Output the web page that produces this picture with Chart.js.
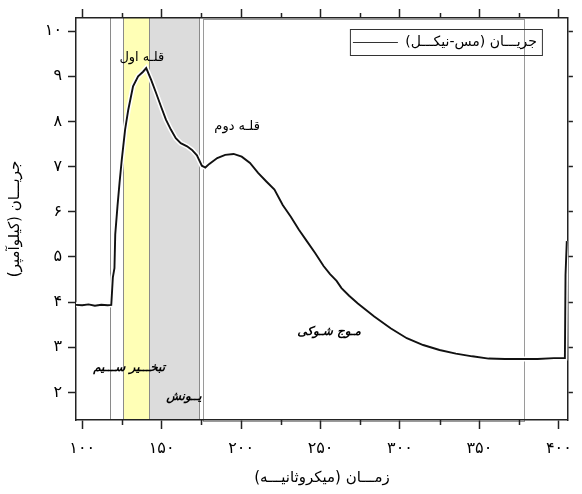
<!DOCTYPE html>
<html>
<head>
<meta charset="utf-8">
<script src="https://cdn.jsdelivr.net/npm/chart.js@4/dist/chart.umd.min.js"></script>
<style>
  html, body { margin: 0; padding: 0; background: #fff; }
  canvas { display: block; }
</style>
</head>
<body>
<canvas id="chart" width="582" height="494"></canvas>
<script>
// داده‌ها (خوانده شده از تصویر)
const timeUs = [96, 100, 104, 108, 112, 116, 118.3, 119.3, 120.3, 120.8, 122.2, 123.5, 124.9, 127, 129, 132,
  135.2, 138.3, 140.3, 143.4, 146.5, 149.6, 152.7, 155.8, 158.9, 162, 166, 169.1, 172.2, 175.3, 177.5, 180,
  185, 190, 195.3, 200.4, 205.6, 210.7, 215.9, 221, 226.2, 231.3, 236.4, 241.6, 246.7, 251.9, 256, 260.1,
  263.2, 268, 273.5, 283.8, 294.1, 304.3, 314.6, 324.9, 335.2, 345.5, 355.8, 366, 376.3, 386.6, 396.9,
  403.8, 404.2, 405];
const currentKA = [3.94, 3.93, 3.95, 3.92, 3.94, 3.93, 3.94, 4.55, 4.75, 5.5, 6.12, 6.64, 7.15, 7.82, 8.26, 8.78,
  9.0, 9.1, 9.18, 8.92, 8.63, 8.33, 8.04, 7.82, 7.63, 7.52, 7.45, 7.37, 7.25, 7.02, 6.98, 7.06,
  7.19, 7.26, 7.28, 7.22, 7.08, 6.86, 6.67, 6.49, 6.15, 5.89, 5.6, 5.34, 5.08, 4.8, 4.62, 4.47,
  4.31, 4.14, 3.97, 3.68, 3.42, 3.2, 3.05, 2.94, 2.86, 2.8, 2.75, 2.74, 2.74, 2.74, 2.76,
  2.76, 4.6, 5.35];
const xTickValues = [100, 150, 200, 250, 300, 350, 400];
const xMinorValues = [125, 175, 225, 275, 325, 375];
const yTickValues = [2, 3, 4, 5, 6, 7, 8, 9, 10];

// بازه‌های فازها (میکروثانیه)
const onsetTime = 117.7;
const evaporationBand = [125.7, 141.8];
const ionizationBand = [141.8, 173.6];
const shockBand = [176.2, 377.8];

const seriesLabel = 'جریـــان (مس-نیکـــل)';

const notes = [
  { text: 'قلـه اول', x: 137.5, y: 9.42, font: '13px "DejaVu Sans"' },
  { text: 'قلـه دوم', x: 197.5, y: 7.88, font: '13px "DejaVu Sans"' },
  { text: 'مـوج شـوکی', x: 255.4, y: 3.34, font: 'italic bold 12px "DejaVu Sans"' },
  { text: 'تبخـــیر ســـیم', x: 129.5, y: 2.54, font: 'italic bold 12px "DejaVu Sans"' },
  { text: 'یــونش', x: 164, y: 1.9, font: 'italic bold 12px "DejaVu Sans"' }
];

const toFa = v => String(v).replace(/\d/g, d => '۰۱۲۳۴۵۶۷۸۹'[d]);
const points = timeUs.map((t, i) => ({ x: t, y: currentKA[i] }));

const overlay = {
  id: 'overlay',
  beforeDraw(chart) {
    const { ctx, chartArea: a, scales: { x } } = chart;
    const px = v => Math.round(x.getPixelForValue(v)) + 0.5;
    ctx.save();
    ctx.fillStyle = '#ffffb6';
    ctx.fillRect(px(evaporationBand[0]), a.top, px(evaporationBand[1]) - px(evaporationBand[0]), a.bottom - a.top);
    ctx.fillStyle = '#dcdcdc';
    ctx.fillRect(px(ionizationBand[0]), a.top, px(ionizationBand[1]) - px(ionizationBand[0]), a.bottom - a.top);
    ctx.strokeStyle = '#8a8a8a';
    ctx.lineWidth = 1;
    [onsetTime, evaporationBand[0], evaporationBand[1], ionizationBand[1]].forEach(v => {
      ctx.beginPath();
      ctx.moveTo(px(v), a.top);
      ctx.lineTo(px(v), a.bottom);
      ctx.stroke();
    });
    ctx.strokeStyle = '#9a9a9a';
    ctx.strokeRect(px(shockBand[0]), a.top + 1.5, px(shockBand[1]) - px(shockBand[0]), a.bottom - a.top);
    ctx.restore();
  },
  afterDraw(chart) {
    const { ctx, chartArea: a, scales: { x, y } } = chart;
    ctx.save();
    // تیک‌های فرعی
    ctx.strokeStyle = '#222';
    ctx.lineWidth = 1.5;
    xMinorValues.forEach(v => {
      const p = Math.round(x.getPixelForValue(v)) + 0.5;
      ctx.beginPath();
      ctx.moveTo(p, a.bottom); ctx.lineTo(p, a.bottom + 5);
      ctx.moveTo(p, a.top); ctx.lineTo(p, a.top - 5);
      ctx.stroke();
    });
    // راهنما
    const bx = a.right - 218, by = a.top + 11, bw = 192, bh = 26;
    ctx.strokeStyle = '#333';
    ctx.lineWidth = 1;
    ctx.strokeRect(bx + 0.5, by + 0.5, bw, bh);
    ctx.beginPath();
    ctx.moveTo(bx + 3, by + 13.5);
    ctx.lineTo(bx + 48, by + 13.5);
    ctx.stroke();
    ctx.fillStyle = '#000';
    ctx.font = '14px "DejaVu Sans"';
    ctx.textAlign = 'right';
    ctx.textBaseline = 'middle';
    ctx.direction = 'rtl';
    ctx.fillText(seriesLabel, bx + bw - 5, by + 13);
    // برچسب‌ها
    ctx.textAlign = 'center';
    notes.forEach(n => {
      ctx.font = n.font;
      ctx.fillText(n.text, x.getPixelForValue(n.x), y.getPixelForValue(n.y));
    });
    ctx.restore();
  }
};

const axisColor = '#222';
const xRange = { min: 96.1, max: 405.7 };
const yRange = { min: 1.39, max: 10.29 };

new Chart(document.getElementById('chart'), {
  type: 'line',
  data: {
    datasets: [
      {
        label: seriesLabel,
        data: points,
        borderColor: '#111111',
        borderWidth: 1.9,
        pointRadius: 0,
        tension: 0
      },
      {
        label: 'halo',
        data: points,
        borderColor: '#ffffff',
        borderWidth: 5,
        pointRadius: 0,
        tension: 0
      }
    ]
  },
  options: {
    responsive: false,
    animation: false,
    devicePixelRatio: 1,
    layout: { padding: 0 },
    plugins: {
      legend: { display: false },
      tooltip: { enabled: false }
    },
    scales: {
      x: {
        type: 'linear',
        position: 'bottom',
        ...xRange,
        afterFit: s => { s.height = 74; },
        afterBuildTicks: s => { s.ticks = xTickValues.map(v => ({ value: v })); },
        grid: { drawOnChartArea: false, tickLength: 9, tickColor: axisColor, tickWidth: 1.5 },
        border: { color: axisColor, width: 1.5 },
        ticks: {
          callback: v => toFa(v),
          color: '#000',
          padding: 10,
          maxRotation: 0,
          font: { family: 'DejaVu Sans', size: 16 }
        },
        title: {
          display: true,
          text: 'زمـــان (میکروثانیـــه)',
          color: '#000',
          font: { family: 'DejaVu Sans', size: 15 },
          padding: { top: 6, bottom: 7 }
        }
      },
      x2: {
        type: 'linear',
        position: 'top',
        ...xRange,
        afterFit: s => { s.height = 18; },
        afterBuildTicks: s => { s.ticks = xTickValues.map(v => ({ value: v })); },
        grid: { drawOnChartArea: false, tickLength: 9, tickColor: axisColor, tickWidth: 1.5 },
        border: { color: axisColor, width: 1.5 },
        ticks: { display: false }
      },
      y: {
        type: 'linear',
        position: 'left',
        ...yRange,
        afterFit: s => { s.width = 76; },
        afterBuildTicks: s => { s.ticks = yTickValues.map(v => ({ value: v })); },
        grid: { drawOnChartArea: false, tickLength: 8, tickColor: axisColor, tickWidth: 1.5 },
        border: { color: axisColor, width: 1.5 },
        ticks: {
          callback: v => toFa(v),
          color: '#000',
          padding: 6,
          font: { family: 'DejaVu Sans', size: 16 }
        },
        title: {
          display: true,
          text: 'جریـــان (کیلوآمپر)',
          color: '#000',
          font: { family: 'DejaVu Sans', size: 15 },
          padding: { top: 6, bottom: 0 }
        }
      },
      y2: {
        type: 'linear',
        position: 'right',
        ...yRange,
        afterFit: s => { s.width = 5; },
        afterBuildTicks: s => { s.ticks = yTickValues.map(v => ({ value: v })); },
        grid: { drawOnChartArea: false, tickLength: 5, tickColor: axisColor, tickWidth: 1.5 },
        border: { color: axisColor, width: 1.5 },
        ticks: { display: false }
      }
    }
  },
  plugins: [overlay]
});
</script>
</body>
</html>
